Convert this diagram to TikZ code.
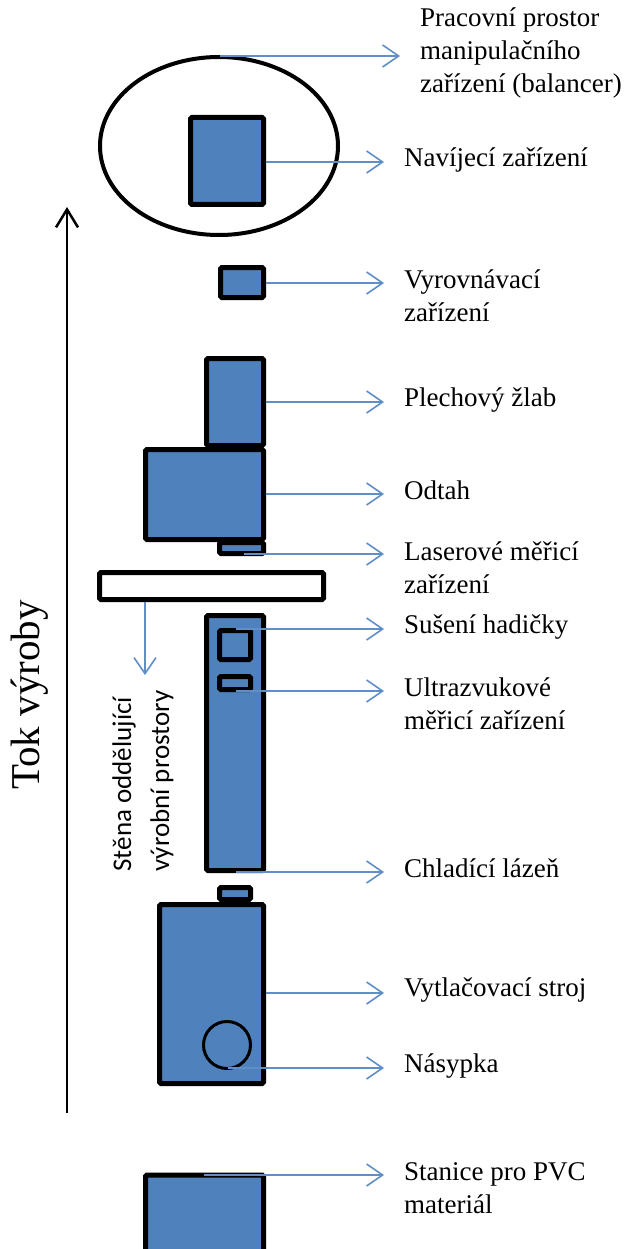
\documentclass[tikz,border=0pt]{standalone}
\usepackage{fontspec}
\setmainfont{Liberation Serif}
\newfontfamily\carlito{Carlito}
\usetikzlibrary{arrows.meta,shapes.geometric}
\definecolor{boxblue}{RGB}{79,129,189}
\definecolor{arrblue}{RGB}{96,142,198}
\begin{document}
\begin{tikzpicture}[x=1pt,y=-1pt,
  blk/.style={draw=black, line width=5pt, fill=boxblue, rounded corners=1.5pt, inner sep=0pt, outer sep=0pt},
  lbl/.style={anchor=west, align=left, inner sep=0pt, font=\fontsize{27}{33}\selectfont},
  ptr/.style={draw=arrblue, line width=1.6pt, -{Straight Barb[length=16pt,width=22pt,line width=1.6pt]}},
  flow/.style={draw=black, line width=2.5pt, -{Straight Barb[length=18pt,width=22pt,line width=2.5pt]}}
]
\useasboundingbox (0,0) rectangle (626,1249);
\fill[white] (0,0) rectangle (626,1249);

% work space ellipse
\node[draw=black, ellipse, line width=4pt, minimum width=238pt, minimum height=178pt, inner sep=0pt] (ws) at (219,146) {};

% boxes
\node[blk, minimum width=73pt, minimum height=87pt] (nav) at (227,161) {};
\node[blk, minimum width=43pt, minimum height=30pt] (vyr) at (242,282.5) {};
\node[blk, minimum width=57pt, minimum height=87pt] (plech) at (235,402) {};
\node[blk, minimum width=118pt, minimum height=90pt] (odtah) at (204.5,494.5) {};
\node[blk, minimum width=44pt, minimum height=11pt] (laser) at (241.5,548) {};
\node[blk, fill=white, minimum width=224pt, minimum height=27pt] (wall) at (211.5,586) {};
\node[blk, minimum width=57pt, minimum height=255pt] (bath) at (235,743) {};
\node[blk, minimum width=31pt, minimum height=29pt] (dry) at (235,645) {};
\node[blk, minimum width=31pt, minimum height=13pt] (ultra) at (235,683) {};
\node[blk, minimum width=31pt, minimum height=12pt] (extop) at (235,893.5) {};
\node[blk, minimum width=104pt, minimum height=179pt] (extr) at (211.5,994) {};
\node[draw=black, circle, line width=3pt, minimum size=47pt, inner sep=0pt] (hop) at (227,1045) {};
\node[blk, minimum width=118pt, minimum height=84pt] (stan) at (204.5,1217) {};

% labels
\node[lbl] (wsL) at (420,53) {Pracovní prostor\\manipulačního\\zařízení (balancer)};
\node[lbl] (navL) at (404,160) {Navíjecí zařízení};
\node[lbl] (vyrL) at (404,296) {Vyrovnávací\\zařízení};
\node[lbl] (plechL) at (404,400) {Plechový žlab};
\node[lbl] (odtahL) at (404,490) {Odtah};
\node[lbl] (laserL) at (404,568) {Laserové měřicí\\zařízení};
\node[lbl] (dryL) at (404,627) {Sušení hadičky};
\node[lbl] (ultraL) at (404,704) {Ultrazvukové\\měřicí zařízení};
\node[lbl] (bathL) at (404,868) {Chladící lázeň};
\node[lbl] (extrL) at (404,990) {Vytlačovací stroj};
\node[lbl] (hopL) at (404,1066) {Násypka};
\node[lbl] (stanL) at (404,1188) {Stanice pro PVC\\materiál};

\node[rotate=90, inner sep=0pt, font=\fontsize{41}{49}\selectfont] (tok) at (30,695) {Tok výroby};
\node[rotate=90, align=left, inner sep=0pt, font=\carlito\fontsize{27}{38}\selectfont] (wallL) at (143,781) {Stěna oddělující\\výrobní prostory};

% connector end points
\coordinate (wsS) at (220,56);    \coordinate (wsT) at (400,56);
\coordinate (navS) at (266,162);  \coordinate (navT) at (384,162);
\coordinate (vyrS) at (266,283);  \coordinate (vyrT) at (384,283);
\coordinate (plechS) at (266,402);\coordinate (plechT) at (384,402);
\coordinate (odtahS) at (266,494);\coordinate (odtahT) at (384,494);
\coordinate (laserS) at (244,554);\coordinate (laserT) at (384,554);
\coordinate (dryS) at (236,629);  \coordinate (dryT) at (384,629);
\coordinate (ultraS) at (236,691);\coordinate (ultraT) at (384,691);
\coordinate (bathS) at (236,872); \coordinate (bathT) at (384,872);
\coordinate (extrS) at (266,993); \coordinate (extrT) at (384,993);
\coordinate (hopS) at (228,1068); \coordinate (hopT) at (384,1068);
\coordinate (stanS) at (204,1175);\coordinate (stanT) at (384,1175);
\coordinate (wallS) at (145,602); \coordinate (wallT) at (145,675);
\coordinate (flowS) at (67,1113); \coordinate (flowT) at (67,207);

% connectors
\foreach \n in {ws,nav,vyr,plech,odtah,laser,dry,ultra,bath,extr,hop,stan,wall}
  \draw[ptr] (\n S) -- (\n T);
\draw[flow] (flowS) -- (flowT);
\end{tikzpicture}
\end{document}
